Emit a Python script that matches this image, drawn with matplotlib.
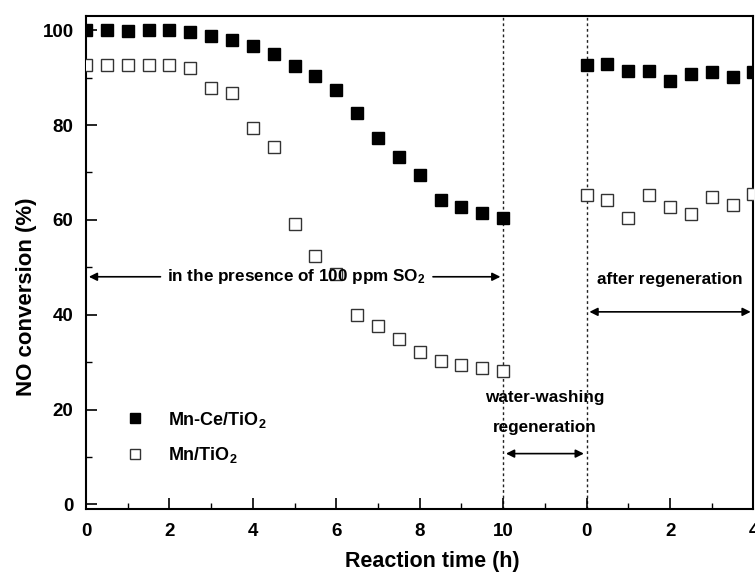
import matplotlib
matplotlib.use("Agg")
import matplotlib.pyplot as plt
from matplotlib.ticker import MultipleLocator

plt.rcParams['font.family'] = ['Liberation Sans', 'DejaVu Sans']
plt.rcParams['font.weight'] = 'bold'
plt.rcParams['mathtext.fontset'] = 'custom'
plt.rcParams['mathtext.rm'] = 'Liberation Sans:bold'
plt.rcParams['mathtext.default'] = 'rm'

# time (h) in SO2 stage and after regeneration stage
t_so2 = [0, 0.5, 1, 1.5, 2, 2.5, 3, 3.5, 4, 4.5, 5, 5.5, 6, 6.5, 7, 7.5, 8, 8.5, 9, 9.5, 10]
t_regen = [0, 0.5, 1, 1.5, 2, 2.5, 3, 3.5, 4]
offset = 12  # regenerated run is drawn after a 2 h gap

mnce_so2 = [100, 100, 99.8, 100, 100, 99.7, 98.7, 98.0, 96.7, 94.9, 92.4, 90.3, 87.4,
            82.5, 77.2, 73.3, 69.5, 64.2, 62.7, 61.5, 60.5]
mnce_regen = [92.6, 92.8, 91.4, 91.4, 89.3, 90.7, 91.2, 90.2, 91.2]
mn_so2 = [92.6, 92.6, 92.6, 92.6, 92.6, 92.1, 87.9, 86.8, 79.3, 75.4, 59.2, 52.4, 48.5,
          40.0, 37.7, 34.9, 32.1, 30.2, 29.3, 28.8, 28.1]
mn_regen = [65.3, 64.2, 60.4, 65.3, 62.7, 61.3, 64.8, 63.2, 65.4]

tick_pos = [0, 2, 4, 6, 8, 10, 12, 14, 16]
tick_lab = ['0', '2', '4', '6', '8', '10', '0', '2', '4']

fig = plt.figure(figsize=(7.55, 5.72), dpi=100)
ax = fig.add_axes([0.114, 0.110, 0.884, 0.862])

t_all = t_so2 + [t + offset for t in t_regen]
ax.plot(t_all, mnce_so2 + mnce_regen, 's', color='black', ms=9, label='Mn-Ce/TiO$_2$', zorder=3)
ax.plot(t_all, mn_so2 + mn_regen, 's', mfc='white', mec='#333333', mew=1.0, ms=8.5,
        label='Mn/TiO$_2$', zorder=3)

ax.axvline(10, color='#222222', ls=(0, (2, 2)), lw=1.0, zorder=1)
ax.axvline(12, color='#222222', ls=(0, (2, 2)), lw=1.0, zorder=1)

arr = dict(arrowstyle='-|>', color='black', lw=1.2, mutation_scale=12)
# SO2 stage
ax.text(5.05, 48, 'in the presence of 100 ppm SO$_2$', ha='center', va='center', fontsize=12.3)
ax.annotate('', xy=(0, 48), xytext=(1.85, 48), arrowprops=arr)
ax.annotate('', xy=(10, 48), xytext=(8.25, 48), arrowprops=arr)
# after regeneration
ax.text(14, 47.5, 'after regeneration', ha='center', va='center', fontsize=12.3)
ax.annotate('', xy=(12, 40.6), xytext=(16, 40.6),
            arrowprops=dict(arrowstyle='<|-|>', color='black', lw=1.2, mutation_scale=12))
# water washing
ax.text(11, 22.5, 'water-washing', ha='center', va='center', fontsize=12.3)
ax.text(11, 16.2, 'regeneration', ha='center', va='center', fontsize=12.3)
ax.annotate('', xy=(10, 10.7), xytext=(12, 10.7),
            arrowprops=dict(arrowstyle='<|-|>', color='black', lw=1.2, mutation_scale=12))

ax.set_xlim(0, 16)
ax.set_ylim(-1, 103)
ax.set_xticks(tick_pos)
ax.set_xticklabels(tick_lab)
ax.xaxis.set_minor_locator(MultipleLocator(1))
ax.yaxis.set_major_locator(MultipleLocator(20))
ax.yaxis.set_minor_locator(MultipleLocator(10))
ax.tick_params(which='major', direction='in', length=8, width=1.2, labelsize=13.5)
ax.tick_params(which='minor', direction='in', length=4, width=1.0)
ax.tick_params(axis='x', which='major', pad=10)
ax.tick_params(axis='y', which='major', pad=9)
for s in ax.spines.values():
    s.set_linewidth(1.5)

ax.set_xlabel('Reaction time (h)', fontsize=15.5, fontweight='bold')
ax.set_ylabel('NO conversion (%)', fontsize=16, fontweight='bold')
ax.xaxis.set_label_coords(0.5195, -0.085)
ax.yaxis.set_label_coords(-0.074, 0.43)

ax.legend(loc='lower left', bbox_to_anchor=(0.036, 0.075), frameon=False, fontsize=13,
          handletextpad=0.8, labelspacing=0.85, borderaxespad=0, markerscale=0.85)

fig.savefig('out.png', dpi=100)
